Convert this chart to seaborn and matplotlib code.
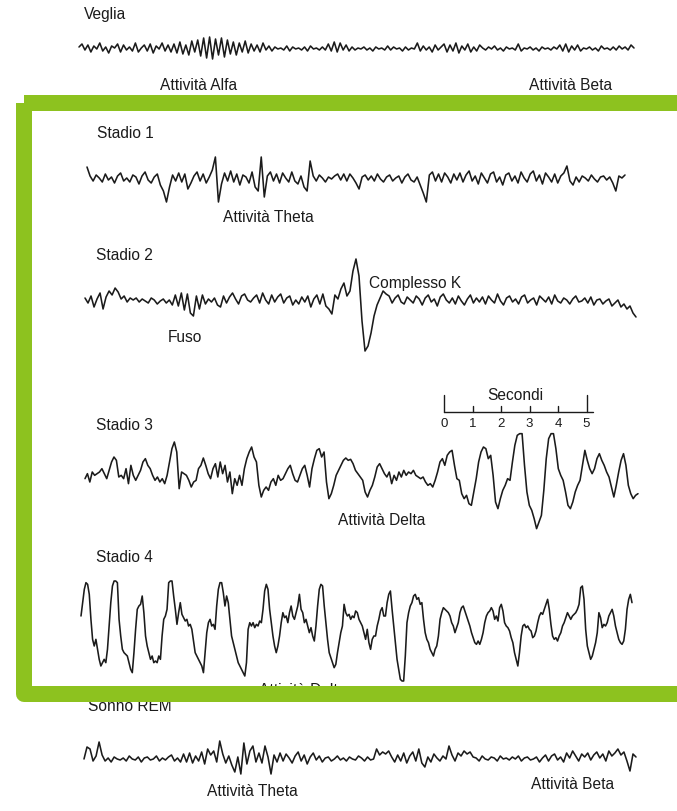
import numpy as np
import pandas as pd
import matplotlib
matplotlib.use("Agg")
import matplotlib.pyplot as plt
import seaborn as sns
from matplotlib.patches import Rectangle

# --- tracciati EEG (ampiezza, unità arbitrarie, campioni equispaziati) ---
veglia = [2, 5, -1, 4, -3, 3, 0, 6, -2, 2, -4, 3, 1, 5, -3, 4, -1, 2, -2, 6, -3, 1, 4, -2, 5, -4, 3, 0, 6, -2, 4, -3,
          5, -4, 7, -5, 4, -6, 8, -3, 9, -7, 11, -9, 12, -10, 10, -6, 11, -8, 9, -5, 7, -6, 6, -3, 8, -4,
          5, -2, 4, -3, 6, -1, 3, -2, 2, 0, 1, -1, 3, -2, 2, 0, 1, -1, 2, -2, 3, 0, 1, -1, 2, -1,
          5, -2, 7, -3, 6, -1, 4, -2,
          2, -1, 1, 0, 2, -1, 1, -2, 2, 0, 1, -1, 3, -1, 2, 0, 1, -2, 2, -1, 1, 0,
          6, -2, 3, -1, 2, -3, 4, -1, 2,
          5, -3, 4, -2, 6, -4, 3, -1, 5, -3, 2, -2, 4,
          1, -1, 2, 0, 3, -1, 1, -2, 2, 0, 1, -1, 5, -2, 1, 0, 2, -1, 1, -2, 2, 0, 1, -1, 2, 0,
          4, -2, 5, -3, 3, -1, 4, -2,
          1, 0, 2, -1, 1, -2, 3, 0, 1, -1, 2, -1, 3, 0, 2, -1, 4, 1]

stadio1 = [12, 3, -2, 4, 1, -3, 5, -1, 2, -4, 3, 6, -2, 1, -3, 4, 2, -5, 3, 7, -1, -4, 2, 5, -6, -12, -23,
           -8, 4, -2, 6, -3, 5, -10, -4, 3, 7, -2, 5, -4, 2, 9, 22,
           -23, -5, 6, -2, 8, -3, 5, -6, 4, 2, -4, 7, -8, -12, 22,
           -18, 3, 7, -2, 5, -4, 6, 1, -3, 7, -2, -5, 3, -8, -12, 18,
           3, -2, 4, 1, -3, 2, 0, 3, 5, -1, 5, -2, 5, 1, -4, -10,
           2, 4, -1, 3, -2, 5, 0, -3, 2, 4, -2, 1, 3, -4, 2, 5, -1, -3, 2, -6, -14, -23,
           4, 7, -2, 5, -3, 6, 2, -4, 5, -1, 6, -3, 4, 8, -2, 3, -5, 6, 1, -4, 5, 7, -3, 2, -6, 4, 6, -2, 3, -4,
           7, 1, -3, 5, 8, -2, 4, -5, 6, 2, -3, 5, -4, 3, 6,
           13, -2, -6, 2, -3, 3, 1, -2, 4, 0, -3, 2, 3, -1, 2, -4, -12, 3, 1, 4]

stadio2 = [3, -2, 5, -6, 2, 8, -8, 4, 10, 6, 13, 9, 2, 5, -1, 3,
           1, 3, -1, 2, 0, -2, 3, 1, -3, 0, 2, -2, 1, -4,
           6, -5, 8, -9, 7, -12, -15, 5, -8, 6, -3,
           2, -1, 3, -4, -6, 5, -2, 4, 8, 2, -3, 5, 7, 1, -1,
           3, 6, -2, 8, 1, -3, 6, -1, 4, 7, -2, 3, 5, -4,
           1, -3, 4, -1, 5, -6, 2, 6, -3, 7, -5, -8,
           -13, 6, 2, 12, 18, 5, 10, 30,
           42, 25, -20, -50, -45, -32,
           -15, -4, 3, 10, 7,
           5, -2, 3, 6, -1, -3, 4, 1, -2, 5, 2, -4, 3, 6, -1, 2, -5, 4, 7, 1, -2, 3, -3, 5, 0, -4, 2, 6, -2, 3,
           -1, 4, -3, 5, 1, -2, 7, 0, -4, 3, 5, -1, 2, -3, 4, 6, -2, 1, 3, -4, 5, 2, -1, 4, -3, 6, 0, -2, 3, 1,
           -3, 2, 5, -1, 0, 3, -2, 4, -4, 1, 2, -3, 0, 2, -5, -2, 1, -6, -3, -8, -5, -12, -16]

stadio3 = [-5, 10, -15, 15, 5, 10, 15, 25, 10, -5, 20, 45, 60, 50, 0, 5, -5, 25, -20, 35, 5, -10, 5, 20, 45,
           55, 35, 25, 5, -10, 0, -15, -5, -20, 5, 45, 85, 105, 75, -35, 15, 10, 5, -10, -30, -15, -10, 25,
           35, 57, 35, 10, -5, 25, 40, 0, 45, 10, 35, -15, 15, -50, -5, -25, 5, -25, 25, 55, 75, 90, 60, 45,
           -25, -60, -40, -30, -40, -15, -5, -25, 5, -10, -5, 10, 25, 35, 10, -10, -15, 5, 25, 35, 5, -30,
           25, 55, 80, 85, 60, 75, -15,
           -65, -50, -25, 5, 20, 35, 50, 57, 50, 53, 40, 20, 10, 0, -10, -45, -60, -40, -25, 0, 30, 40, 25,
           10, 0, 15, -20, 5, -10, 15, 0, 20, 5, 15, 10, 20, 5, 0, -5, 0, -15, -25, -20, -30, -10, 15, 45,
           55, 35, 65, 75, 80, 35, -5, -10, -50, -65, -55, -80, -85, -45, -5, 45, 75, 90, 85, 55, 65, 5,
           -75, -95, -65, -40, -25, -5, -10, 45, 95, 125, 130, 130, 35, -45, -85, -100, -125, -155, -135,
           -115, -40, 55, 115, 130, 130, 85, 25, 5, -10, -45, -85, -95, -75, -45, -25, -10, 35, 80, 50, 25,
           10, 25, 55, 70, 50, 35, 15, 0, -30, -60, -25, 15, 50, 70, 35, -25, -50, -65, -55, -50]

stadio4 = [30, 70, 110, 130, 125, 95, 20, -40, -60, -40, -70, -100, -120, -110, -100, -110, -70, 0, 70, 120,
           135, 135, 130, 20, -30, -70, -80, -85, -90, -110, -130, -140, -80, -10, 50, 60, 65, 90, 40, -30,
           -60, -80, -100, -90, -110, -105, -110, -90, -100, -30, 20, 30, 50, 130, 135, 135, 90, 50, 5, 40,
           70, 35, 25, 15, 20, 0, 5, -10, -45, -80, -90, -100, -110, -120, -140, -80, -20, 10, 20, 0, 5,
           -10, 60, 110, 130, 130, 100, 60, 90, 70, 20, -30, -50, -70, -90, -110, -120, -130, -140, -150,
           -110, -10, 10, 0, 10, -5, 5, 0, 15, 10, 50, 105, 125, 110, 50, 10, -30, -60, -80, -60, -30, 10,
           40, 25, 30, 10, 40, 60, 30, 20, 40, 60, 95, 50, 40, 10, 20, 0, -20, -5, -30, -45, 0, 60, 110,
           125, 120, 60, 10, -40, -80, -95, -110, -125, -115, -80, -50, -20, 0,
           65, 40, 30, 35, 20, 30, 25, 45, 40, 20, 10, 0, -20, -40, -10, -50, -70, -40, -30, -30, 0, 20,
           45, 55, 30, 30, 70, 95, 105, 50, 0, -50, -100, -130, -160, -165, -165, -90, 10, 40, 60, 70, 90,
           95, 80, 85, 65, 70, 20, -20, -40, -50, -70, -80, -90, -70, -60, -30, 20, 40, 55, 50, 45, 40, 30,
           10, 0, -20, -5, 10, 40, 55, 60, 45, 30, 15, 0, -20, -35, -50, -55, -45, -55, -40, -20, 10, 30,
           40, 45, 55, 45, 20, 30, 15, 55, 65, 45, 10, 0, -5, -15, -35, -50, -80, -100, -120, -80, -30, 0,
           5, -5, 0, -10, -15, -35, -30, -15, 10, 30, 40, 35, 50, 65, 80, 50, 5, -30, -40, -35, -45, -30,
           -20, 0, 10, 25, 40, 30, 20, 30, 35, 40, 50, 65, 115, 120, 80, -10, -60, -80, -100, -90, -70, -50,
           -20, 40, 25, -5, 5, 0, 10, 30, 40, 50, 30, 0, -20, -40, -50, -55, -45, -10, 50, 80, 95, 70]

rem = [0, 12, 10, -2, 3, 17, 4, -2, 1, -3, 2, 0, -1,
       1, -2, 3, 0, -1, 2, -3, 1, 2, -1, 0, 3, -2, 1, -1, 2, 4, -2, 1, -3,
       5, -3, 6, -4, 3, -2, 7, -5, 10,
       4, 8, -3, 18, 5, -4, 3, -6, -13, 2, -15, 16, -5, 8, 13, -3, 6, -4, 13, 2, -15,
       4, -3, 6, -2, 5, 1, -4, 3, 7, -2, 4, -5, 2, 6, -1, 3, -3, 1, 2, -2, 0, 3, -1, 1, -2, 2, 0, -1, 3, 1,
       -2, 2, -1, 0,
       10, 4, 7, 5, 8, 2, -3, 4, -2, 6, -4,
       3, 7, -2, 10, -4, -8, 2, -3, 5, 1, -2, 3, 0,
       13, 4, -2, 6, 3, 8, 5, 7, 2,
       1, -2, 3, 0, -1, 2, 1, -2, 3, 0, 1, -1, 2, 0, 3, -2, 1, 2, -1, 0, 2, -3, 1,
       4, -2, 3, 5, -1, 2, -3, 6, 1, 8, 3, -2, 5,
       2, 6, -1, 4, 7, 1, 5, -2, 8, 3, 6, 10, 4, 7, -2, -12, 5, 2]

secondi_ticks = [0, 1, 2, 3, 4, 5]

# --- impaginazione (pixel della figura 677x812) ---
W, H = 677, 812
# nome, dati, x inizio, x fine, linea di base, guadagno
tracce = [
    ("Veglia", veglia, 79, 634, 50, 1.0),
    ("Stadio 1", stadio1, 87, 625, 180, 1.0),
    ("Stadio 2", stadio2, 85, 636, 302, 1.0),
    ("Stadio 3", stadio3, 85, 638, 478, 1 / 3),
    ("Stadio 4", stadio4, 81, 632, 627, 1 / 3),
    ("Sonno REM", rem, 84, 636, 760, 1.0),
]

frames = []
for nome, vals, x0, x1, base, gain in tracce:
    v = np.asarray(vals, dtype=float)
    frames.append(pd.DataFrame({
        "traccia": nome,
        "x": np.linspace(x0, x1, len(v)),
        "y": base - gain * v,
    }))
df = pd.concat(frames, ignore_index=True)

sns.set_style("white")
plt.rcParams["font.family"] = ["Liberation Sans", "DejaVu Sans"]

fig = plt.figure(figsize=(W / 100, H / 100), dpi=100)
ax = fig.add_axes([0, 0, 1, 1])
ax.set_xlim(0, W)
ax.set_ylim(H, 0)
ax.axis("off")

ink = "#1b1b1b"
sns.lineplot(data=df, x="x", y="y", units="traccia", estimator=None, sort=False,
             color=ink, linewidth=1.15, ax=ax, legend=False)

fs = 11.2
etichette = [
    ("Veglia", 84, 14, "left"), ("Attività Alfa", 160, 86, "left"), ("Attività Beta", 612, 86, "right"),
    ("Stadio 1", 97, 133, "left"), ("Attività Theta", 268, 218, "center"),
    ("Stadio 2", 96, 256, "left"), ("Complesso K", 369, 284, "left"), ("Fuso", 168, 338, "left"),
    ("Stadio 3", 96, 426, "left"), ("Attività Delta", 338, 521, "left"),
    ("Stadio 4", 96, 558, "left"), ("Attività Delta", 259, 691, "left"),
    ("Sonno REM", 88, 707, "left"), ("Attività Theta", 252, 792, "center"),
    ("Attività Beta", 614, 785, "right"),
]
for txt, x, y, ha in etichette:
    ax.text(x, y, txt, fontsize=fs, color=ink, ha=ha, va="center")

# barra dei secondi
sx0, spx, sy = 444, 28.5, 413
xs = [sx0 + spx * t for t in secondi_ticks]
ax.plot([xs[0], xs[-1] + 6], [sy, sy], color=ink, lw=1.0)
for t, x in zip(secondi_ticks, xs):
    top = sy - 17 if t in (0, 5) else sy - 6
    ax.plot([x, x], [top, sy], color=ink, lw=1.0)
    ax.text(x, sy + 11, str(t), fontsize=9.5, color=ink, ha="center", va="center")
ax.text((xs[0] + xs[-1]) / 2, sy - 17, "Secondi", fontsize=fs, color=ink, ha="center", va="center")

# cornice verde
ax.add_patch(Rectangle((24, 104), 720, 591, fill=False, edgecolor="#8DC21F",
                       linewidth=16 * 0.72, joinstyle="round", zorder=10, clip_on=False))

fig.savefig("out.png", dpi=100, facecolor="white")
